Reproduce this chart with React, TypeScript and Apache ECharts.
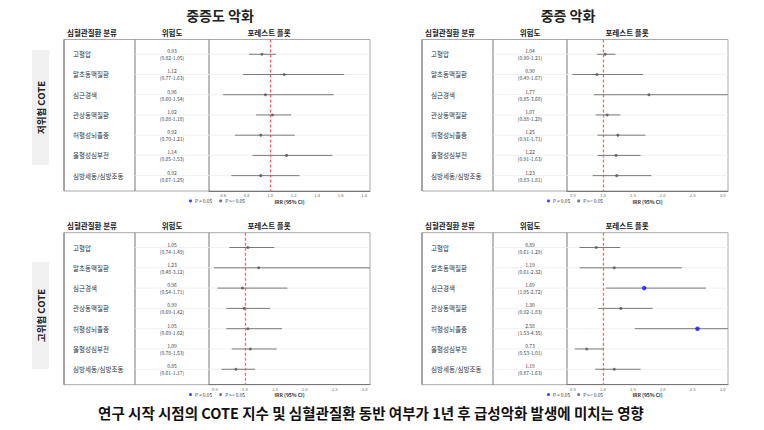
import React, { useEffect, useRef } from "react";
import * as echarts from "echarts";

const categories = ["고혈압", "말초동맥질환", "심근경색", "관상동맥질환", "허혈성뇌졸중", "울혈성심부전", "심방세동/심방조동"];

// 저위험 COTE – 중증도 악화
const lowModEst = [0.93, 1.12, 0.96, 1.02, 0.92, 1.14, 0.92];
const lowModLo = [0.82, 0.77, 0.60, 0.88, 0.70, 0.85, 0.67];
const lowModHi = [1.05, 1.63, 1.54, 1.18, 1.21, 1.53, 1.25];
const lowModSig = [false, false, false, false, false, false, false];

// 저위험 COTE – 중증 악화
const lowSevEst = [1.04, 0.90, 1.77, 1.07, 1.25, 1.22, 1.23];
const lowSevLo = [0.90, 0.49, 0.85, 0.88, 0.91, 0.91, 0.83];
const lowSevHi = [1.21, 1.67, 3.68, 1.29, 1.71, 1.63, 1.81];
const lowSevSig = [false, false, false, false, false, false, false];

// 고위험 COTE – 중증도 악화
const highModEst = [1.05, 1.23, 0.96, 0.99, 1.05, 1.09, 0.85];
const highModLo = [0.74, 0.48, 0.54, 0.69, 0.69, 0.78, 0.61];
const highModHi = [1.49, 3.12, 1.71, 1.42, 1.62, 1.53, 1.17];
const highModSig = [false, false, false, false, false, false, false];

// 고위험 COTE – 중증 악화
const highSevEst = [0.89, 1.19, 1.69, 1.30, 2.58, 0.73, 1.19];
const highSevLo = [0.61, 0.61, 1.05, 0.92, 1.53, 0.53, 0.87];
const highSevHi = [1.29, 2.32, 2.72, 1.83, 4.35, 1.01, 1.63];
const highSevSig = [false, false, true, false, true, false, false];

const ticksNarrow = [0.6, 0.8, 1.0, 1.2, 1.4, 1.6, 1.8];
const ticksWide = [0.5, 1.0, 1.5, 2.0, 2.5, 3.0];

const panelTitles = ["중증도 악화", "중증 악화"];
const groupLabels = ["저위험 COTE", "고위험 COTE"];
const headerLabels = ["심혈관질환 분류", "위험도", "포레스트 플롯"];
const legendNames = ["P < 0.05", "P >= 0.05"];
const axisName = "IRR (95% CI)";
const caption = "연구 시작 시점의 COTE 지수 및 심혈관질환 동반 여부가 1년 후 급성악화 발생에 미치는 영향";

const FONT = "'Noto Sans CJK KR', 'Noto Sans', sans-serif";

export default function App() {
  const ref = useRef<HTMLDivElement>(null);
  useEffect(() => {
    if (!ref.current) return;
    const chart = echarts.init(ref.current, undefined, { renderer: "svg" });

    const panels = [
      { est: lowModEst, lo: lowModLo, hi: lowModHi, sig: lowModSig, ticks: ticksNarrow, min: 0.48, max: 1.85, left: 209, top: 39.5, height: 151.5 },
      { est: lowSevEst, lo: lowSevLo, hi: lowSevHi, sig: lowSevSig, ticks: ticksWide, min: 0.4, max: 3.09, left: 567, top: 39.5, height: 151.5 },
      { est: highModEst, lo: highModLo, hi: highModHi, sig: highModSig, ticks: ticksWide, min: 0.4, max: 3.09, left: 209, top: 232.7, height: 152 },
      { est: highSevEst, lo: highSevLo, hi: highSevHi, sig: highSevSig, ticks: ticksWide, min: 0.4, max: 3.09, left: 567, top: 232.7, height: 152 },
    ];
    const W = 161;
    const rowVals = [1, 2, 3, 4, 5, 6, 7];

    const grid: any[] = [];
    const xAxis: any[] = [];
    const yAxis: any[] = [];
    const series: any[] = [];
    const legend: any[] = [];
    const graphic: any[] = [];

    panels.forEach((p, i) => {
      grid.push({ left: p.left, top: p.top, width: W, height: p.height, containLabel: false });
      xAxis.push({
        type: "value", gridIndex: i, min: p.min, max: p.max,
        axisLine: { show: true, lineStyle: { color: "#777", width: 1 } },
        axisTick: { show: false },
        splitLine: { show: false },
        axisLabel: { customValues: p.ticks, fontSize: 4.2, color: "#666", margin: 2, formatter: (v: number) => v.toFixed(1) },
        name: axisName, nameLocation: "middle", nameGap: 7.5,
        nameTextStyle: { fontSize: 5, fontWeight: "bold", color: "#333" },
      });
      const yBase = { type: "value", gridIndex: i, min: 0.27, max: 7.76, inverse: true, position: "left",
        axisLine: { show: false }, axisTick: { show: false }, splitLine: { show: false } };
      yAxis.push({ ...yBase,
        axisLabel: { customValues: rowVals, align: "left", margin: 136, fontSize: 6.5, color: "#333",
          formatter: (v: number) => categories[Math.round(v) - 1] ?? "" } });
      yAxis.push({ ...yBase,
        axisLabel: { customValues: rowVals, align: "center", margin: 37,
          formatter: (v: number) => {
            const k = Math.round(v) - 1;
            return `{a|${p.est[k].toFixed(2)}}\n{b|(${p.lo[k].toFixed(2)}-${p.hi[k].toFixed(2)})}`;
          },
          rich: { a: { fontSize: 5, color: "#444", lineHeight: 7 }, b: { fontSize: 5, color: "#444", lineHeight: 7 } } } });

      const ciData = p.est.map((e, k) => [e, p.lo[k], p.hi[k], k + 1]);
      series.push({
        type: "custom", xAxisIndex: i, yAxisIndex: i * 2, z: 1,
        encode: { x: [0, 1, 2], y: 3 },
        data: ciData,
        renderItem: (params: any, api: any) => {
          const cs = params.coordSys;
          const row = api.value(3);
          const c = api.coord([api.value(0), row]);
          const a = api.coord([api.value(1), row]);
          const b = api.coord([api.value(2), row]);
          const x0 = Math.max(cs.x, a[0]);
          const x1 = Math.min(cs.x + cs.width, b[0]);
          return {
            type: "group",
            children: [
              { type: "line", shape: { x1: cs.x - 74, y1: c[1], x2: cs.x + cs.width, y2: c[1] }, style: { stroke: "#ededed", lineWidth: 0.8 } },
              { type: "line", shape: { x1: x0, y1: c[1], x2: x1, y2: c[1] }, style: { stroke: "#7a7a7a", lineWidth: 1 } },
            ],
          };
        },
      });
      series.push({
        type: "scatter", name: legendNames[0], xAxisIndex: i, yAxisIndex: i * 2, z: 4,
        symbol: "circle", symbolSize: 4.5, itemStyle: { color: "#1010ff" },
        data: p.est.map((e, k) => (p.sig[k] ? [e, k + 1] : null)).filter((d) => d),
      });
      series.push({
        type: "scatter", name: legendNames[1], xAxisIndex: i, yAxisIndex: i * 2, z: 3,
        symbol: "circle", symbolSize: 3, itemStyle: { color: "#555" },
        data: p.est.map((e, k) => (!p.sig[k] ? [e, k + 1] : null)).filter((d) => d),
        markLine: {
          silent: true, symbol: "none", animation: false,
          label: { show: false },
          lineStyle: { color: "#f05050", type: [3, 2], width: 1.3, opacity: 0.85 },
          data: [{ xAxis: 1 }],
        },
      });
      legend.push({
        data: legendNames, left: p.left - 20, top: p.top + p.height + 7.5, padding: 0,
        icon: "circle", itemWidth: 3, itemHeight: 3, itemGap: 7,
        textStyle: { fontSize: 4.8, color: "#333", padding: [0, 0, 0, -2] },
        selectedMode: false,
      });

      // table structure
      const tLeft = p.left - 145;
      graphic.push({ type: "rect", shape: { x: tLeft, y: p.top, width: W + 145, height: p.height }, style: { fill: "none", stroke: "#aaa", lineWidth: 1 }, z: 0 });
      graphic.push({ type: "line", shape: { x1: tLeft, y1: p.top, x2: tLeft, y2: p.top + p.height }, style: { stroke: "#777", lineWidth: 1 } });
      graphic.push({ type: "line", shape: { x1: p.left - 74, y1: p.top, x2: p.left - 74, y2: p.top + p.height }, style: { stroke: "#777", lineWidth: 1 } });
      graphic.push({ type: "line", shape: { x1: p.left, y1: p.top, x2: p.left, y2: p.top + p.height }, style: { stroke: "#777", lineWidth: 1 } });
      const hdrX = [p.left - 117, p.left - 37, p.left + 60];
      headerLabels.forEach((h, j) => {
        graphic.push({ type: "text", x: hdrX[j], y: p.top - 7.5, style: { text: h, fontSize: 7.5, fontWeight: "bold", fill: "#222", align: "center", verticalAlign: "middle", fontFamily: FONT } });
      });
    });

    panelTitles.forEach((t, j) => {
      graphic.push({ type: "text", x: j === 0 ? 220 : 568, y: 15, style: { text: t, fontSize: 14, fontWeight: "bold", fill: "#222", align: "center", verticalAlign: "middle", fontFamily: FONT } });
    });
    const boxes = [{ y: 50, h: 115 }, { y: 262, h: 107 }];
    groupLabels.forEach((g, j) => {
      graphic.push({ type: "rect", shape: { x: 32, y: boxes[j].y, width: 17, height: boxes[j].h }, style: { fill: "#f0f0f0" } });
      graphic.push({ type: "text", x: 40.5, y: boxes[j].y + boxes[j].h / 2, rotation: Math.PI / 2,
        style: { text: g, fontSize: 9.5, fontWeight: "bold", fill: "#222", align: "center", verticalAlign: "middle", fontFamily: FONT } });
    });
    graphic.push({ type: "text", x: 371, y: 412, style: { text: caption, fontSize: 14.5, fontWeight: "bold", fill: "#111", align: "center", verticalAlign: "middle", fontFamily: FONT } });

    chart.setOption({
      animation: false,
      backgroundColor: "#fff",
      textStyle: { fontFamily: FONT },
      grid, xAxis, yAxis, series, legend, graphic,
    });
    return () => chart.dispose();
  }, []);
  return <div ref={ref} style={{ position: "fixed", left: 0, top: 0, width: 764, height: 430 }} />;
}
